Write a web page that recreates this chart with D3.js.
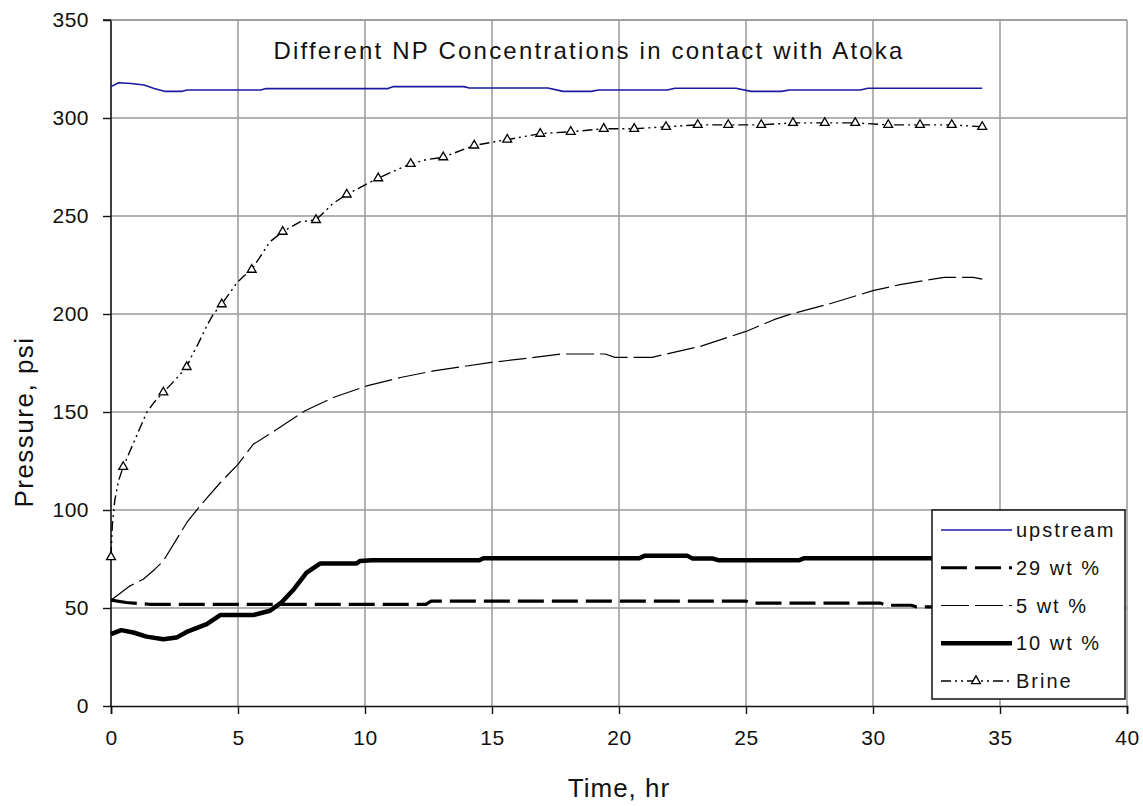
<!DOCTYPE html>
<html><head><meta charset="utf-8">
<script src="https://cdn.jsdelivr.net/npm/d3@7"></script>
<style>
html,body{margin:0;padding:0;background:#fff;}
svg text{font-family:"Liberation Sans",Arial,sans-serif;fill:#111;}
</style></head>
<body>
<svg id="chart" width="1143" height="806"></svg>
<script>
// ---- data ----
const chartTitle = "Different NP Concentrations in contact with Atoka";
const xTicks = [0,5,10,15,20,25,30,35,40];
const yTicks = [0,50,100,150,200,250,300,350];
const seriesNames = ["upstream","29 wt %","5 wt %","10 wt %","Brine"];

const upstream = [[0,316],[0.3,318],[0.8,317.6],[1.3,316.8],[1.7,315],[2.1,313.6],[2.8,313.6],[3.0,314.3],[5.9,314.3],[6.1,315],[10.9,315],[11.1,316],[13.9,316],[14.1,315.3],[17.2,315.3],[17.8,313.6],[18.9,313.6],[19.2,314.3],[21.9,314.3],[22.2,315.2],[24.6,315.2],[25.2,313.6],[26.4,313.6],[26.7,314.3],[29.5,314.3],[29.8,315.2],[34.3,315.2]];

const wt29 = [[0,54],[0.6,52.8],[1.5,51.9],[12.4,51.9],[12.6,53.5],[25,53.5],[25.2,52.5],[30.3,52.5],[30.5,51.4],[31.5,51.4],[31.7,50.6],[34.3,50.6]];

const wt5 = [[0,54],[0.75,61.3],[1.27,64.7],[1.73,69.8],[2.06,74],[2.58,85],[2.98,93.5],[3.5,102],[4.3,113.9],[5.0,123.3],[5.6,133.5],[6.52,141.1],[7.64,150.6],[8.75,157.4],[10.07,163.3],[11.4,167.6],[12.7,171],[14.9,175.2],[16.5,177.6],[17.74,179.6],[19.45,179.6],[19.84,177.9],[21.3,177.9],[23.2,183.5],[25,191.1],[26.1,197.1],[26.7,199.7],[28.4,205.6],[30,211.9],[31.06,215],[32.8,218.7],[33.95,218.7],[34.3,217.8]];

const wt10 = [[0,36.7],[0.4,38.7],[0.88,37.5],[1.4,35.4],[2.06,34.1],[2.58,34.9],[2.98,37.8],[3.77,41.8],[4.3,46.4],[5.6,46.4],[6.26,48.6],[6.72,52.9],[7.2,59.6],[7.7,68.1],[8.23,72.7],[9.67,72.7],[9.8,74],[10.26,74.4],[14.5,74.4],[14.66,75.4],[20.8,75.4],[21,76.6],[22.7,76.6],[22.9,75.2],[23.7,75.2],[23.9,74.4],[27.1,74.4],[27.3,75.4],[34.3,75.4]];

const brine = [[0,76],[0.05,92],[0.15,105],[0.3,115],[0.48,122],[0.88,134],[1.2,143.6],[1.4,149.6],[1.7,155],[2.06,160],[2.5,166],[2.98,173],[3.18,178.6],[3.44,185],[3.77,194],[4.03,200],[4.36,205],[4.95,215.8],[5.2,219],[5.54,222.6],[6.26,236.9],[6.76,242],[7.44,247],[8.07,248],[8.75,256.5],[9.28,261],[9.93,265.4],[10.52,269.3],[11.1,272.7],[11.8,276.6],[12.4,278.7],[13.08,280],[14.3,286],[15.6,289],[16.9,292],[18.1,293],[19.4,294.5],[20.6,294.5],[21.85,295.5],[23.1,296.5],[24.3,296.5],[25.6,296.5],[26.85,297.5],[28.1,297.5],[29.3,297.5],[30.6,296.5],[31.85,296.5],[33.1,296.5],[34.3,295.5]];

const brineMarkers = [[0,76],[0.48,122],[2.06,160],[2.98,173],[4.36,205],[5.54,222.6],[6.76,242],[8.07,248],[9.28,261],[10.52,269.3],[11.8,276.6],[13.08,280],[14.3,286],[15.6,289],[16.9,292],[18.1,293],[19.4,294.5],[20.6,294.5],[21.85,295.5],[23.1,296.5],[24.3,296.5],[25.6,296.5],[26.85,297.5],[28.1,297.5],[29.3,297.5],[30.6,296.5],[31.85,296.5],[33.1,296.5],[34.3,295.5]];

// ---- layout ----
const L = 111, R = 1127, T = 20, B = 706;
const svg = d3.select("#chart");
const x = d3.scaleLinear().domain([0,40]).range([L,R]);
const y = d3.scaleLinear().domain([0,350]).range([B,T]);

// grid
svg.append("g").selectAll("line").data(xTicks.filter(d=>d>0)).join("line")
  .attr("x1",d=>x(d)).attr("x2",d=>x(d)).attr("y1",T).attr("y2",B)
  .attr("stroke","#999").attr("stroke-width",1.5);
svg.append("g").selectAll("line").data(yTicks.filter(d=>d>0)).join("line")
  .attr("x1",L).attr("x2",R).attr("y1",d=>y(d)).attr("y2",d=>y(d))
  .attr("stroke","#999").attr("stroke-width",1.5);

// axes
const fs = 21;
const yAxis = svg.append("g").attr("transform",`translate(${L},0)`)
  .call(d3.axisLeft(y).tickValues(yTicks).tickSize(8).tickPadding(14).tickFormat(d3.format("d")));
const xAxis = svg.append("g").attr("transform",`translate(0,${B})`)
  .call(d3.axisBottom(x).tickValues(xTicks).tickSize(8).tickPadding(16).tickFormat(d3.format("d")));
[yAxis,xAxis].forEach(g=>{
  g.select(".domain").attr("stroke","#111").attr("stroke-width",1.6);
  g.selectAll(".tick line").attr("stroke","#111").attr("stroke-width",1.4);
  g.selectAll(".tick text").attr("font-size",fs).attr("fill","#222")
    .style("font-family","'Liberation Sans',Arial,sans-serif").attr("letter-spacing",0.5);
});
yAxis.select(".domain").attr("d",`M-8,${T}H0V${B}`);

// lines
const line = d3.line().x(d=>x(d[0])).y(d=>y(d[1]));
const styles = [
  {data:upstream, stroke:"#1a1aa0", w:1.6, dash:null},
  {data:wt29, stroke:"#000", w:3.2, dash:"26,8"},
  {data:wt5, stroke:"#000", w:1.2, dash:"28,6"},
  {data:wt10, stroke:"#000", w:4.5, dash:null},
  {data:brine, stroke:"#000", w:1.4, dash:"10,4,2,4,2,4"}
];
const order = [4,2,1,3,0];
order.forEach(i=>{
  const s = styles[i];
  svg.append("path").datum(s.data).attr("d",line).attr("fill","none")
    .attr("stroke",s.stroke).attr("stroke-width",s.w)
    .attr("stroke-dasharray",s.dash).attr("stroke-linejoin","round");
});
const tri = d3.symbol().type(d3.symbolTriangle).size(34);
svg.append("g").selectAll("path").data(brineMarkers).join("path")
  .attr("d",tri).attr("transform",d=>`translate(${x(d[0])},${y(d[1])})`)
  .attr("fill","#fff").attr("stroke","#000").attr("stroke-width",1.3);

// top border
svg.append("line").attr("x1",L).attr("x2",R).attr("y1",T).attr("y2",T).attr("stroke","#999").attr("stroke-width",1.5);

// title
svg.append("text").attr("x",589).attr("y",59).attr("text-anchor","middle")
  .attr("font-size",24).attr("letter-spacing",2.2).attr("fill","#333").text(chartTitle);

// axis titles
svg.append("text").attr("x",(L+R)/2).attr("y",797).attr("text-anchor","middle")
  .attr("font-size",26).attr("letter-spacing",1).attr("fill","#333").text("Time, hr");
svg.append("text").attr("transform","translate(33,422) rotate(-90)").attr("text-anchor","middle")
  .attr("font-size",26).attr("letter-spacing",1.5).attr("fill","#333").text("Pressure, psi");

// legend
const lg = svg.append("g");
lg.append("rect").attr("x",932).attr("y",510).attr("width",193).attr("height",189)
  .attr("fill","#fff").attr("stroke","#111").attr("stroke-width",1.5);
const ly = d3.scalePoint().domain(seriesNames).range([530,681]);
seriesNames.forEach((n,i)=>{
  const s = styles[i];
  lg.append("line").attr("x1",941).attr("x2",1012).attr("y1",ly(n)).attr("y2",ly(n))
    .attr("stroke",s.stroke).attr("stroke-width",s.w).attr("stroke-dasharray",s.dash);
  if(i===4){
    lg.append("path").attr("d",tri).attr("transform",`translate(976,${ly(n)})`)
      .attr("fill","#fff").attr("stroke","#000").attr("stroke-width",1.3);
  }
  lg.append("text").attr("x",1016).attr("y",ly(n)+7).attr("font-size",20)
    .attr("letter-spacing",2).attr("fill","#222").text(n);
});
</script>
</body></html>
